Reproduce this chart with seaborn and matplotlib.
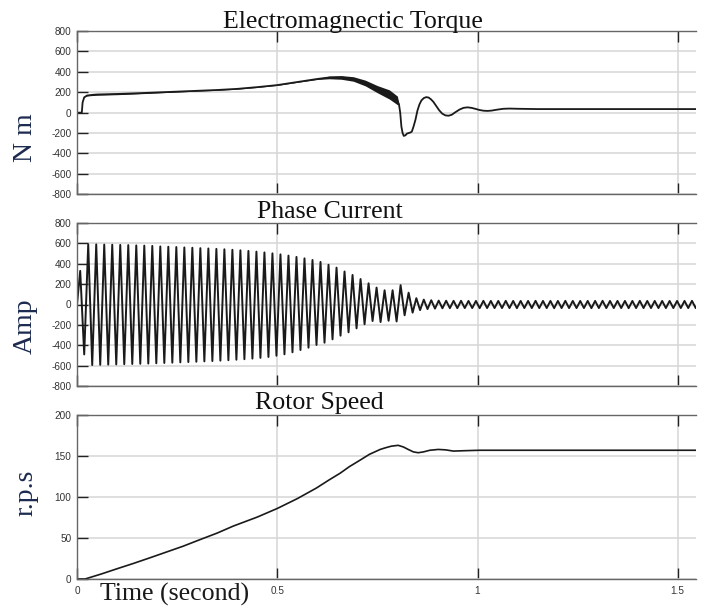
import numpy as np
import pandas as pd
import seaborn as sns
import matplotlib
matplotlib.use("Agg")
import matplotlib.pyplot as plt

# ---- valores ----
# Par electromagnetico (N m)
torque_t = [0, 0.012, 0.014, 0.018, 0.025, 0.04, 0.05, 0.1, 0.15, 0.2, 0.25, 0.3,
            0.35, 0.4, 0.45, 0.5, 0.55, 0.6, 0.63, 0.66, 0.69, 0.72, 0.75, 0.78,
            0.8, 0.804, 0.807, 0.81, 0.813, 0.816, 0.82, 0.824, 0.828, 0.832,
            0.836, 0.84, 0.845, 0.85, 0.855, 0.86, 0.866, 0.872, 0.878, 0.884,
            0.89, 0.897, 0.904, 0.912, 0.92, 0.928, 0.936, 0.945, 0.955, 0.965,
            0.975, 0.985, 0.995, 1.005, 1.015, 1.025, 1.035, 1.05, 1.065, 1.08,
            1.1, 1.15, 1.2, 1.3, 1.4, 1.5, 1.55]
torque = [0, 0, 100, 150, 168, 175, 178, 183, 190, 198, 206, 214,
          222, 233, 250, 270, 300, 330, 345, 345, 330, 290, 230, 178,
          120, 80, 0, -137, -200, -228, -222, -205, -200, -195,
          -186, -140, -71, 20, 80, 120, 143, 152, 148, 130,
          105, 65, 25, -10, -27, -30, -20, 5, 30, 47,
          52, 47, 37, 26, 19, 17, 20, 30, 38, 40,
          38, 35, 35, 35, 35, 35, 35]
# semiamplitud de la oscilacion rapida (banda negra)
torque_ripple = [0, 0, 0, 0, 4, 7, 7, 7, 6, 5, 4, 3,
                 3, 3, 3, 3, 3, 5, 13, 18, 22, 28, 35, 45,
                 42, 0, 0, 0, 0, 0, 0, 0, 0, 0,
                 0, 0, 0, 0, 0, 0, 0, 0, 0, 0,
                 0, 0, 0, 0, 0, 0, 0, 0, 0, 0,
                 0, 0, 0, 0, 0, 0, 0, 0, 0, 0,
                 0, 0, 0, 0, 0, 0, 0]

# Corriente de fase: picos y valles sucesivos (A)
current_extrema = [330, -490, 590, -594, 590, -592, 588, -590, 587, -588,
                   585, -586, 583, -584, 580, -582, 578, -580, 575, -577,
                   570, -574, 567, -571, 564, -568, 560, -565, 557, -562,
                   553, -558, 550, -555, 546, -551, 542, -547, 537, -542,
                   532, -537, 526, -531, 519, -524, 511, -515, 502, -503,
                   492, -489, 480, -469, 467, -447, 453, -424, 437, -397,
                   418, -375, 390, -342, 362, -306, 324, -273, 290, -234,
                   250, -194, 208, -162, 166, -172, 140, -160, 140, -166,
                   190, -106, 116, -80]
ripple_peaks = [62, 48, 42, 38, 37, 36, 36, 35, 35, 36, 35, 35,
                36, 35, 35, 35, 36, 35, 35, 35, 36, 35, 35, 35,
                35, 36, 35, 35, 35, 35, 36, 35, 35, 35, 35, 35, 35,
                36, 35, 35]
ripple_troughs = [-55, -45, -40, -37, -36, -36, -35, -35, -36, -35, -35, -35,
                  -35, -36, -35, -35, -35, -35, -36, -35, -35, -35, -35, -36,
                  -35, -35, -35, -35, -36, -35, -35, -35, -35, -35, -35, -35, -35,
                  -35, -36, -35]

# Velocidad del rotor (r.p.s)
speed_t = [0, 0.02, 0.06, 0.1, 0.141, 0.18, 0.224, 0.265, 0.307, 0.35, 0.39,
           0.45, 0.5, 0.55, 0.598, 0.63, 0.657, 0.68, 0.707, 0.73, 0.757,
           0.77, 0.785, 0.802, 0.815, 0.827, 0.84, 0.852, 0.865, 0.881, 0.902,
           0.92, 0.94, 0.97, 1.006, 1.1, 1.3, 1.55]
speed = [0, 0, 6, 12.5, 19, 25.5, 33, 40, 48, 56, 64.5,
         75.5, 86, 98, 111, 121, 129, 137, 145, 152, 158,
         160, 162, 163, 161, 158, 155, 154, 155, 157, 158,
         157.5, 156, 156.5, 157, 157, 157, 157]

x_ticks = [0, 0.5, 1, 1.5]
x_tick_labels = ["0", "0.5", "1", "1.5"]
torque_ticks = list(range(-800, 801, 200))
current_ticks = list(range(-800, 801, 200))
speed_ticks = [0, 50, 100, 150, 200]

# ---- tablas para seaborn ----
df_torque = pd.DataFrame({"t": torque_t, "Te": torque, "band": torque_ripple})

t_main = 0.008 + 0.01 * np.arange(len(current_extrema))
ripple_vals = [v for pair in zip(ripple_peaks, ripple_troughs) for v in pair]
t_ripple = t_main[-1] + 0.0093 * np.arange(1, len(ripple_vals) + 1)
df_current = pd.DataFrame({
    "t": np.concatenate([[0.0], t_main, t_ripple]),
    "i": np.concatenate([[0.0], current_extrema, ripple_vals]),
})
df_speed = pd.DataFrame({"t": speed_t, "w": speed})

# ---- figura ----
sns.set_theme(style="white")
plt.rcParams["font.family"] = ["Liberation Sans", "DejaVu Sans"]
plt.rcParams["axes.unicode_minus"] = False

W, H = 705, 607
fig = plt.figure(figsize=(W / 100, H / 100), dpi=100)

x_max = (696 - 77) / 400.5


def make_axes(top_px, bot_px):
    return fig.add_axes([77 / W, 1 - bot_px / H, (696 - 77) / W, (bot_px - top_px) / H])


def style(ax, ylim, yticks, show_x):
    ax.set_xlim(0, x_max)
    ax.set_ylim(*ylim)
    ax.set_yticks(yticks)
    ax.set_xticks(x_ticks)
    ax.set_xticklabels(x_tick_labels if show_x else [])
    ax.grid(True, color="#d6d6d6", lw=1.1)
    ax.tick_params(direction="in", length=8, width=1, color="#222222",
                   labelsize=7.2, labelcolor="#333333", top=True, right=False,
                   left=True, bottom=True)
    ax.tick_params(axis="y", pad=4)
    ax.tick_params(axis="x", pad=5)
    for s in ["top", "left", "bottom"]:
        ax.spines[s].set_color("#666666")
        ax.spines[s].set_linewidth(1.0)
    ax.spines["right"].set_visible(False)
    ax.set_xlabel("")
    ax.set_ylabel("")


ax1 = make_axes(31, 194.3)
ax2 = make_axes(223, 386)
ax3 = make_axes(415, 579)

line_col = "#1a1a1a"

ax1.fill_between(df_torque["t"], df_torque["Te"] - df_torque["band"],
                 df_torque["Te"] + df_torque["band"], color=line_col, lw=0)
sns.lineplot(data=df_torque, x="t", y="Te", ax=ax1, color=line_col, lw=1.3,
             estimator=None, sort=False)
sns.lineplot(data=df_current, x="t", y="i", ax=ax2, color=line_col, lw=1.4,
             estimator=None, sort=False)
sns.lineplot(data=df_speed, x="t", y="w", ax=ax3, color=line_col, lw=1.2,
             estimator=None, sort=False)

style(ax1, (-800, 800), torque_ticks, False)
style(ax2, (-800, 800), current_ticks, False)
style(ax3, (0, 200), speed_ticks, True)

serif = ["Liberation Serif", "DejaVu Serif"]
tsize = 18.6
fig.text(223 / W, 1 - 28 / H, "Electromagnectic Torque", ha="left", va="baseline",
         fontsize=tsize, family=serif, color="#111111")
fig.text(257 / W, 1 - 218.3 / H, "Phase Current", ha="left", va="baseline",
         fontsize=tsize, family=serif, color="#111111")
fig.text(255 / W, 1 - 409 / H, "Rotor Speed", ha="left", va="baseline",
         fontsize=tsize, family=serif, color="#111111")
fig.text(100 / W, 1 - 601 / H, "Time (second)", ha="left", va="baseline",
         fontsize=tsize, family=serif, color="#1a1a1a")

ycol = "#1b2a4e"
for label, yc in [("N m", 138), ("Amp", 326), ("r.p.s", 493)]:
    fig.text(32 / W, 1 - yc / H, label, rotation=90, rotation_mode="anchor",
             ha="center", va="baseline", fontsize=20, family=serif, color=ycol)

fig.savefig("out.png", dpi=100)
